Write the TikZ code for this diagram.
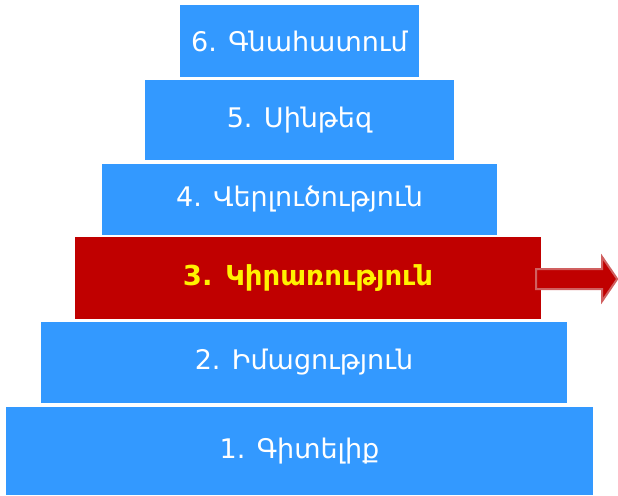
\documentclass[tikz,border=0pt]{standalone}
\usepackage{fontspec}
\setmainfont{DejaVu Sans}
\definecolor{stepblue}{HTML}{3399FF}
\definecolor{stepred}{HTML}{C00000}
\definecolor{arrowrim}{HTML}{D06060}
\tikzset{
  level/.style={fill=stepblue, text=white, inner sep=0pt, font=\fontsize{27}{32}\selectfont},
  hot/.style={level, fill=stepred, text=yellow, font=\fontsize{27.5}{32}\selectfont\bfseries}
}
\begin{document}
\begin{tikzpicture}[x=1pt,y=-1pt]
      \useasboundingbox (0,0) rectangle (618,495);
      % pyramid, top to bottom
      \node[level, minimum width=239pt, minimum height=72pt] (l6) at (299.5,41) {6. Գնահատում};
      \node[level, minimum width=309pt, minimum height=80pt] (l5) at (299.5,120) {5. Սինթեզ};
      \node[level, minimum width=395pt, minimum height=71pt] (l4) at (299.5,199.5) {4. Վերլուծություն};
      \node[hot, minimum width=466pt, minimum height=82pt] (l3) at (308,278) {3. Կիրառություն};
      \node[level, minimum width=526pt, minimum height=81pt] (l2) at (304,362.5) {2. Իմացություն};
      \node[level, minimum width=587pt, minimum height=88pt] (l1) at (299.5,451) {1. Գիտելիք};
      % arrow out of level 3
      \coordinate (tail) at ([xshift=-5pt,yshift=-1pt]l3.east);
      \filldraw[fill=stepred, draw=arrowrim, line width=2pt, line join=miter]
        (tail) ++(0,-10) -- ++(66,0) -- ++(0,-12) -- ++(15,22) -- ++(-15,22) -- ++(0,-12) -- ++(-66,0) -- cycle;
\end{tikzpicture}
\end{document}
